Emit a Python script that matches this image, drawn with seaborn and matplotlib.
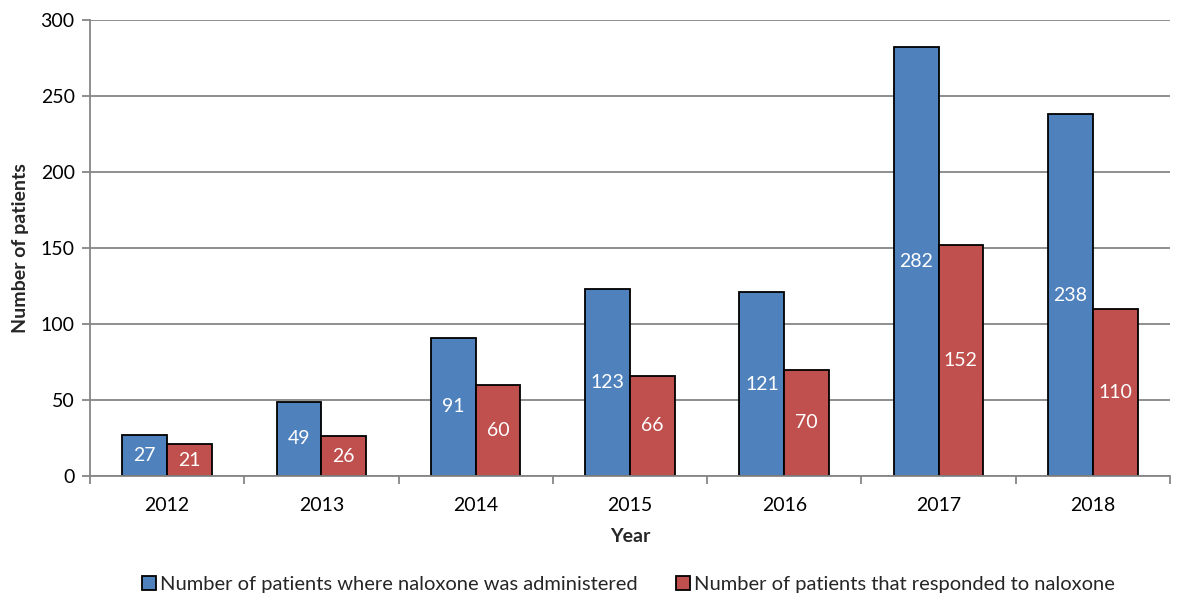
import matplotlib
matplotlib.use("Agg")
import matplotlib.pyplot as plt
import seaborn as sns
import pandas as pd
import numpy as np

years = ["2012", "2013", "2014", "2015", "2016", "2017", "2018"]
administered = [27, 49, 91, 123, 121, 282, 238]
responded = [21, 26, 60, 66, 70, 152, 110]
series_names = [
    "Number of patients where naloxone was administered",
    "Number of patients that responded to naloxone",
]
colors = ["#4F81BD", "#C0504D"]

df = pd.DataFrame({
    "Year": years * 2,
    "Patients": administered + responded,
    "Series": [series_names[0]] * len(years) + [series_names[1]] * len(years),
})

sns.set_theme(style="white")
plt.rcParams["font.family"] = ["Lato", "DejaVu Sans"]

fig = plt.figure(figsize=(11.85, 6.05), dpi=100)
ax = fig.add_axes([0.0759, 0.2132, 0.9114, 0.7538])

sns.barplot(data=df, x="Year", y="Patients", hue="Series", order=years,
            hue_order=series_names, palette=colors, edgecolor="black",
            linewidth=1.3, width=0.58, gap=0, saturation=1, ax=ax)

for cont in ax.containers:
    ax.bar_label(cont, label_type="center", color="white", fontsize=14)

grid_c = "#868686"
ax.set_ylim(0, 300)
ax.set_xlim(-0.5, len(years) - 0.5)
ax.set_yticks(np.arange(0, 301, 50))
ax.yaxis.grid(True, color=grid_c, linewidth=1.3)
ax.set_axisbelow(True)
for side in ["top", "right"]:
    ax.spines[side].set_visible(False)
for side in ["left", "bottom"]:
    ax.spines[side].set_color(grid_c)
    ax.spines[side].set_linewidth(1.3)

ax.tick_params(axis="y", which="major", length=6, width=1.3, color=grid_c,
               labelsize=14, pad=5, left=True, labelcolor="black")
ax.tick_params(axis="x", which="major", length=0, labelsize=14, pad=15,
               labelcolor="black")
ax.set_xticks(np.arange(-0.5, len(years), 1.0), minor=True)
ax.tick_params(axis="x", which="minor", length=6, width=1.3, color=grid_c,
               bottom=True)

ax.set_xlabel("Year", fontsize=14, fontweight="bold", labelpad=10)
ax.set_ylabel("Number of patients", fontsize=14, fontweight="bold", labelpad=8)

handles, labels = ax.get_legend_handles_labels()
ax.legend_.remove()
fig.legend(handles, labels, loc="lower center", bbox_to_anchor=(0.53, -0.01),
           ncol=2, frameon=False, fontsize=14.5, handlelength=0.7,
           handleheight=0.7, handletextpad=0.2, columnspacing=1.9)

fig.savefig("out.png", dpi=100)
